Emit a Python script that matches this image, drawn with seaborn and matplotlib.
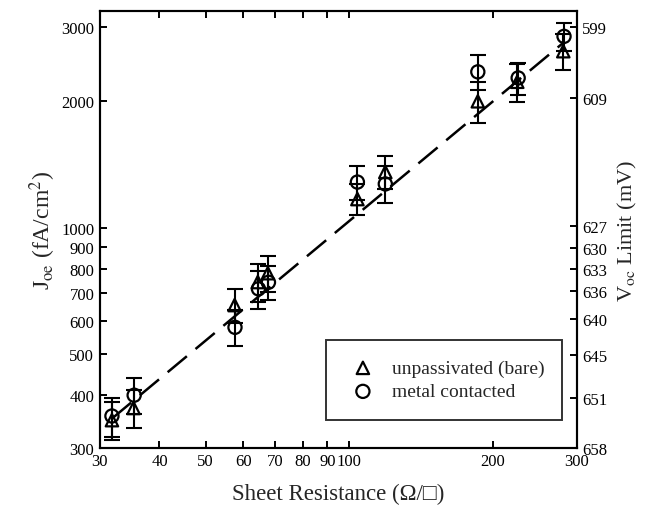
import numpy as np
import pandas as pd
import seaborn as sns
import matplotlib.pyplot as plt

# --- DATA ---
rs_bare = [31.8, 35.3, 57.5, 64.3, 67.5, 104, 119, 186, 225, 281]
joe_bare = [349, 373, 655, 743, 780, 1170, 1357, 1998, 2223, 2628]
err_bare = [36, 38, 60, 75, 75, 100, 120, 220, 230, 260]

rs_metal = [31.8, 35.4, 57.6, 64.5, 67.7, 104, 119, 186, 226, 282]
joe_metal = [357, 400, 580, 716, 742, 1284, 1271, 2347, 2270, 2850]
err_metal = [38, 40, 57, 75, 70, 118, 128, 220, 200, 220]

fit_rs = [31.8, 283]
fit_joe = [352, 2770]

x_ticks = [30, 40, 50, 60, 70, 80, 90, 100, 200, 300]
y_ticks = [300, 400, 500, 600, 700, 800, 900, 1000, 2000, 3000]
voc_ticks = [599, 609, 627, 630, 633, 636, 640, 645, 651, 658]

# Voc limit axis: Voc = 658 mV at Joe = 300 fA/cm2, Vt = 25.6 mV
V_REF, J_REF, VT = 658.0, 300.0, 25.6

sns.set_theme(style="ticks")
plt.rcParams['font.family'] = ['Liberation Serif', 'DejaVu Sans']
plt.rcParams['mathtext.fontset'] = 'stix'

fig = plt.figure(figsize=(6.57, 5.10), dpi=100)
ax = fig.add_axes([0.152, 0.120, 0.726, 0.856])

bare = pd.DataFrame({'rs': rs_bare, 'joe': joe_bare, 'err': err_bare})
metal = pd.DataFrame({'rs': rs_metal, 'joe': joe_metal, 'err': err_metal})
fit = pd.DataFrame({'rs': fit_rs, 'joe': fit_joe})

# dashed fit line
sns.lineplot(data=fit, x='rs', y='joe', ax=ax, color='black', lw=1.8,
             dashes=False, legend=False)
ax.lines[-1].set_dashes((10, 4.5))

# error bars
for d in (bare, metal):
    ax.errorbar(d['rs'], d['joe'], yerr=d['err'], fmt='none', ecolor='black',
                elinewidth=1.5, capsize=5.5, capthick=1.5, zorder=3)

sns.scatterplot(data=bare, x='rs', y='joe', ax=ax, marker='^', s=80,
                facecolor='none', edgecolor='black', linewidth=1.6,
                label='unpassivated (bare)', zorder=4)
sns.scatterplot(data=metal, x='rs', y='joe', ax=ax, marker='o', s=90,
                facecolor='none', edgecolor='black', linewidth=1.6,
                label='metal contacted', zorder=4)

ax.set_xscale('log')
ax.set_yscale('log')
ax.set_xlim(30, 300)
ax.set_ylim(300, 3270)
ax.set_xticks(x_ticks)
ax.set_xticklabels([str(t) for t in x_ticks])
ax.set_yticks(y_ticks)
ax.set_yticklabels([str(t) for t in y_ticks])
ax.minorticks_off()
ax.tick_params(direction='in', length=5, width=1.4, labelsize=12,
               top=True, right=False, colors='black', pad=4)

ax.set_xlabel('Sheet Resistance (\u03a9/\u25a1)', fontsize=16.5, labelpad=10)
ax.set_ylabel('J$_{\\mathrm{oe}}$ (fA/cm$^{2}$)', fontsize=17, labelpad=2)

for s in ax.spines.values():
    s.set_linewidth(1.5)
    s.set_color('black')

# right axis: Voc limit
ax2 = ax.twinx()
ax2.set_yscale('log')
ax2.set_ylim(ax.get_ylim())
voc_pos = [J_REF * np.exp((V_REF - v) / VT) for v in voc_ticks]
ax2.set_yticks(voc_pos)
ax2.set_yticklabels([str(v) for v in voc_ticks])
ax2.minorticks_off()
ax2.tick_params(direction='in', length=5, width=1.4, labelsize=12,
                colors='black', pad=4)
ax2.set_ylabel('V$_{\\mathrm{oc}}$ Limit (mV)', fontsize=16, labelpad=6)
for s in ax2.spines.values():
    s.set_linewidth(1.5)
    s.set_color('black')

leg = ax.legend(loc='center', bbox_to_anchor=(0.474, 0.057, 0.495, 0.197),
                mode='expand', fontsize=14, frameon=True, fancybox=False,
                borderpad=1.0, handletextpad=0.6, labelspacing=0.3,
                handlelength=1.8, borderaxespad=0)
leg.get_frame().set_edgecolor('black')
leg.get_frame().set_linewidth(1.4)

fig.savefig('out.png', dpi=100)
